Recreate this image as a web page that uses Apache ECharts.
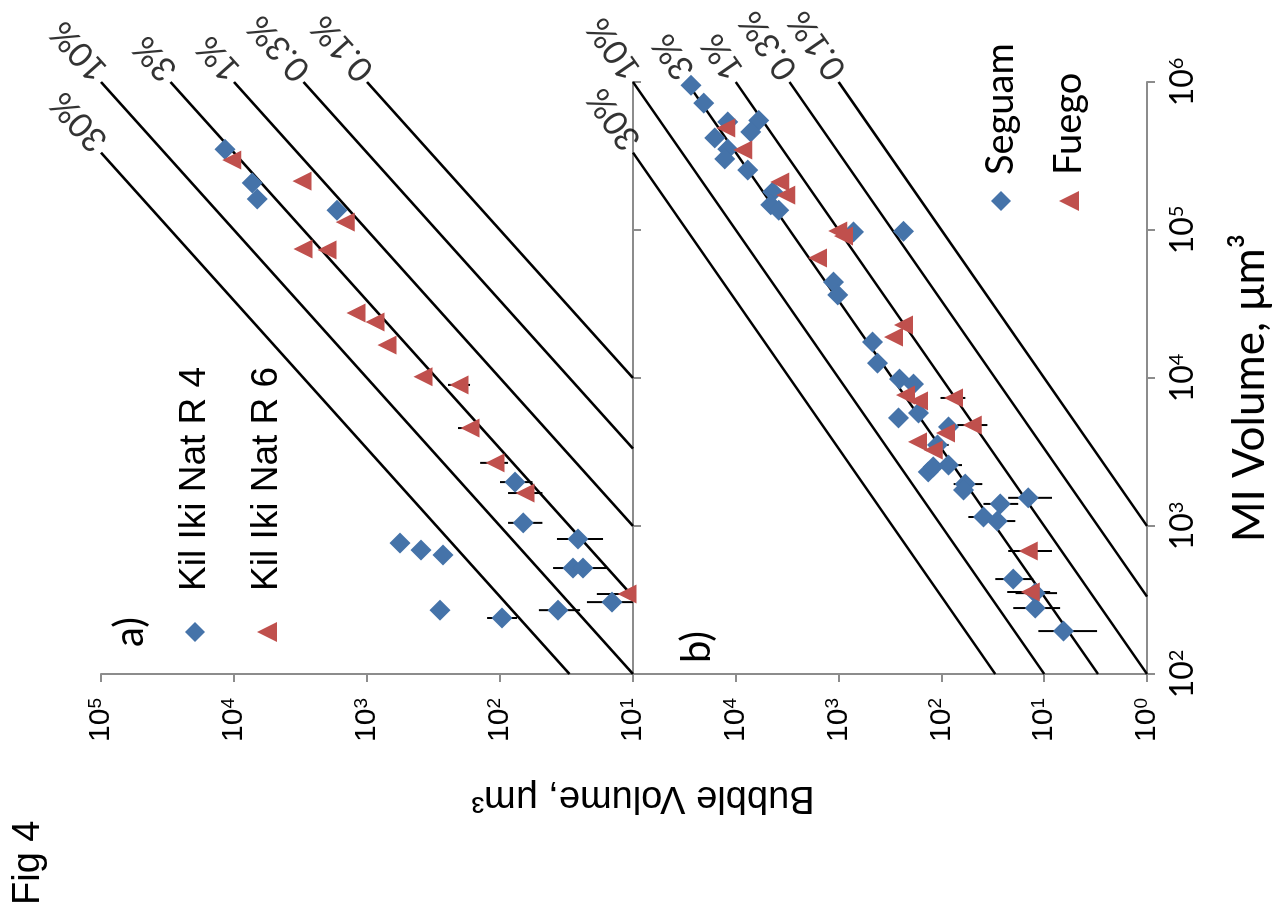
<!DOCTYPE html>
<html>
<head>
<meta charset="utf-8">
<script src="https://cdn.jsdelivr.net/npm/echarts@6/dist/echarts.min.js"></script>
<style>
  html, body { margin: 0; padding: 0; background: #fff; overflow: hidden; }
  /* the figure is laid out upright and turned a quarter turn, like the page it came from */
  #chart {
    position: absolute; left: 0; top: 0; width: 909px; height: 1283px;
    transform-origin: 0 0; transform: translate(0, 909px) rotate(-90deg);
  }
</style>
</head>
<body>
<div id="chart"></div>
<script>
// bubble / MI volume ratio lines
const fractions = [0.3, 0.1, 0.03, 0.01, 0.003, 0.001];
const fractionLabels = ["30%", "10%", "3%", "1%", "0.3%", "0.1%"];

const miRange = [1e2, 1e6];
const bubbleRangeA = [1e1, 1e5];
const bubbleRangeB = [1e0, 1e5];

// panel a, [MI volume, bubble volume]
const kil4 = [
  [3.51e5, 1.17e4], [2.08e5, 7.3e3], [1.62e5, 6.7e3], [1.36e5, 1.68e3],
  [1980, 77], [1050, 67], [817, 25.9], [520, 28.3], [520, 23.8], [306, 14.4],
  [270, 282], [239, 96.6], [270, 36.6], [767, 565], [688, 393], [637, 268],
];
// [MI volume, low, high]
const kil4Err = [
  [1980, 57, 100], [1050, 48, 87], [817, 16.8, 37.3], [520, 15.7, 39.9],
  [306, 10, 22.2], [239, 74.5, 125], [270, 25, 51],
];
const kil6 = [
  [2.97e5, 1.04e4], [2.14e5, 3.08e3], [1.13e5, 1.46e3], [7.44e4, 3.03e3], [7.33e4, 2.0e3],
  [2.75e4, 1.21e3], [2.39e4, 871], [1.67e4, 708], [1.02e4, 379], [8980, 203],
  [4590, 168], [2670, 109], [1670, 64.9], [347, 11.1],
];
const kil6Err = [
  [8980, 168, 246], [4590, 146, 207], [2670, 87, 141], [1670, 48, 87], [347, 10, 18.7],
];

// panel b
const seguam = [
  [9.5e5, 2.73e4], [7.2e5, 2.05e4], [5.37e5, 1.2e4], [5.5e5, 5.98e3], [4.6e5, 7.15e3],
  [4.19e5, 1.6e4], [3.52e5, 1.2e4], [3.02e5, 1.28e4], [2.54e5, 7.64e3], [1.81e5, 4.37e3],
  [1.48e5, 4.57e3], [1.36e5, 3.83e3], [9.7e4, 715], [9.8e4, 234], [4.45e4, 1.12e3],
  [3.64e4, 1.02e3], [1.75e4, 468], [1.26e4, 418], [9840, 256], [9100, 187], [5800, 167],
  [5370, 261], [4670, 85.5], [3530, 109], [2580, 85.5], [2320, 134], [2510, 120],
  [1920, 58.5], [1750, 61], [1410, 26.7], [1150, 39], [1080, 28.6], [1550, 14.3],
  [438, 20], [352, 12.2], [279, 12.2], [195, 6.5],
];
const seguamErr = [
  [3530, 85, 123], [2580, 63, 110], [1920, 40, 76], [1410, 17.9, 39], [1150, 26.7, 54.7],
  [1080, 19.1, 40], [1550, 8.4, 22.4], [438, 12.8, 29.9], [352, 7.5, 19], [279, 7, 20],
  [195, 3.06, 11.4],
];
const fuego = [
  [4.89e5, 1.25e4], [3.47e5, 8.55e3], [2.11e5, 3.74e3], [1.72e5, 3.27e3], [9.85e4, 1.02e3],
  [9.1e4, 894], [6.47e4, 1.6e3], [2.28e4, 234], [1.89e4, 292], [7670, 224], [7000, 167],
  [7330, 76.4], [4810, 50], [4250, 91.4], [3700, 171], [3260, 120], [678, 14.3], [358, 13.7],
];
const fuegoErr = [
  [7330, 58.5, 102], [4810, 35.7, 70], [678, 8.4, 22.4], [358, 8.75, 22.9],
];

const BLUE = "#4573a9";
const RED = "#c0504d";
const AXIS = "#8c8c8c";

function powerLabel(v) {
  return "{b|10}{s|" + Math.round(Math.log10(v)) + "}";
}
function powerRich(size, font) {
  return {
    b: { fontSize: size, fontFamily: font, color: "#000" },
    s: { fontSize: Math.round(size * 0.62), fontFamily: font, color: "#000", verticalAlign: "top" },
  };
}

function logAxis(grid, range, label) {
  return {
    type: "log",
    logBase: 10,
    gridIndex: grid,
    min: range[0],
    max: range[1],
    axisLine: { show: true, lineStyle: { color: AXIS, width: 2 } },
    axisTick: { show: true, length: 8, lineStyle: { color: AXIS, width: 2 } },
    splitLine: { show: false },
    minorTick: { show: false },
    axisLabel: label,
  };
}

function ratioLines(range, gi) {
  return fractions.map((f) => {
    const lo = Math.max(miRange[0], range[0] / f);
    const hi = Math.min(miRange[1], range[1] / f);
    return {
      type: "line",
      xAxisIndex: gi,
      yAxisIndex: gi,
      data: [[lo, lo * f], [hi, hi * f]],
      symbol: "none",
      silent: true,
      z: 1,
      lineStyle: { color: "#000", width: 2.5 },
    };
  });
}

function ratioLabels(range, gi, angle) {
  return {
    type: "scatter",
    xAxisIndex: gi,
    yAxisIndex: gi,
    symbolSize: 0,
    silent: true,
    data: fractions.map((f, i) => {
      const hi = Math.min(miRange[1], range[1] / f);
      return { name: fractionLabels[i], value: [hi, hi * f] };
    }),
    label: {
      show: true,
      formatter: "{b}",
      position: "right",
      distance: 6,
      rotate: angle,
      fontFamily: "Lato",
      fontSize: 34,
      color: "#000",
    },
  };
}

function errorBars(data, gi) {
  return {
    type: "custom",
    xAxisIndex: gi,
    yAxisIndex: gi,
    silent: true,
    z: 2,
    data: data,
    encode: { x: 0, y: [1, 2] },
    renderItem: (params, api) => {
      const a = api.coord([api.value(0), api.value(1)]);
      const b = api.coord([api.value(0), api.value(2)]);
      return {
        type: "line",
        shape: { x1: a[0], y1: a[1], x2: b[0], y2: b[1] },
        style: { stroke: "#000", lineWidth: 2 },
      };
    },
  };
}

function points(name, data, gi, symbol, color, size) {
  return {
    name: name,
    type: "scatter",
    xAxisIndex: gi,
    yAxisIndex: gi,
    data: data,
    symbol: symbol,
    symbolSize: size,
    z: 3,
    itemStyle: { color: color, opacity: 1 },
  };
}

const chart = echarts.init(document.getElementById("chart"));

chart.setOption({
  animation: false,
  backgroundColor: "#fff",
  grid: [
    { left: 235, top: 101, width: 592, height: 532 },
    { left: 235, top: 633, width: 592, height: 514 },
  ],
  xAxis: [
    logAxis(0, miRange, { show: false }),
    logAxis(1, miRange, {
      formatter: powerLabel,
      rich: powerRich(32, "Lato"),
      margin: 20,
    }),
  ],
  yAxis: [
    logAxis(0, bubbleRangeA, {
      formatter: powerLabel,
      rich: powerRich(30, "Liberation Sans"),
      margin: 24,
    }),
    logAxis(1, bubbleRangeB, {
      formatter: powerLabel,
      rich: powerRich(30, "Liberation Sans"),
      margin: 24,
      showMaxLabel: false,
    }),
  ],
  legend: [
    {
      data: ["Kil Iki Nat R 4", "Kil Iki Nat R 6"],
      orient: "vertical",
      left: 262,
      top: 170,
      itemWidth: 20,
      itemHeight: 20,
      itemGap: 32,
      selectedMode: false,
      textStyle: { fontFamily: "Liberation Sans", fontSize: 37, lineHeight: 40, color: "#000", padding: [0, 0, 0, 26] },
    },
    {
      data: ["Seguam", "Fuego"],
      orient: "vertical",
      left: 693,
      top: 976,
      itemWidth: 20,
      itemHeight: 20,
      itemGap: 28,
      selectedMode: false,
      textStyle: { fontFamily: "Lato", fontSize: 38, lineHeight: 40, color: "#000", padding: [0, 0, 0, 11] },
    },
  ],
  graphic: [
    {
      type: "text",
      left: 4,
      top: 10,
      style: { text: "Fig 4", fontFamily: "Liberation Sans", fontSize: 38, fill: "#000" },
    },
    {
      type: "text",
      x: 277,
      y: 130,
      style: { text: "a)", fontFamily: "Lato", fontSize: 40, fill: "#000", align: "center", verticalAlign: "middle" },
    },
    {
      type: "text",
      x: 262,
      y: 697,
      style: { text: "b)", fontFamily: "Lato", fontSize: 40, fill: "#000", align: "center", verticalAlign: "middle" },
    },
    {
      type: "text",
      x: 112,
      y: 643,
      rotation: Math.PI / 2,
      style: { text: "Bubble Volume, μm³", fontFamily: "Liberation Sans", fontSize: 38, fill: "#000", align: "center", verticalAlign: "middle" },
    },
    {
      type: "text",
      x: 521,
      y: 1250,
      style: { text: "MI Volume, μm³", fontFamily: "Lato", fontSize: 44, fill: "#000", align: "center", verticalAlign: "middle" },
    },
  ],
  series: [
    ...ratioLines(bubbleRangeA, 0),
    ...ratioLines(bubbleRangeB, 1),
    ratioLabels(bubbleRangeA, 0, 42),
    ratioLabels(bubbleRangeB, 1, 35),
    errorBars(kil4Err, 0),
    errorBars(kil6Err, 0),
    errorBars(seguamErr, 1),
    errorBars(fuegoErr, 1),
    points("Kil Iki Nat R 4", kil4, 0, "diamond", BLUE, 21),
    points("Kil Iki Nat R 6", kil6, 0, "triangle", RED, 19),
    points("Seguam", seguam, 1, "diamond", BLUE, 21),
    points("Fuego", fuego, 1, "triangle", RED, 19),
  ],
});
</script>
</body>
</html>
